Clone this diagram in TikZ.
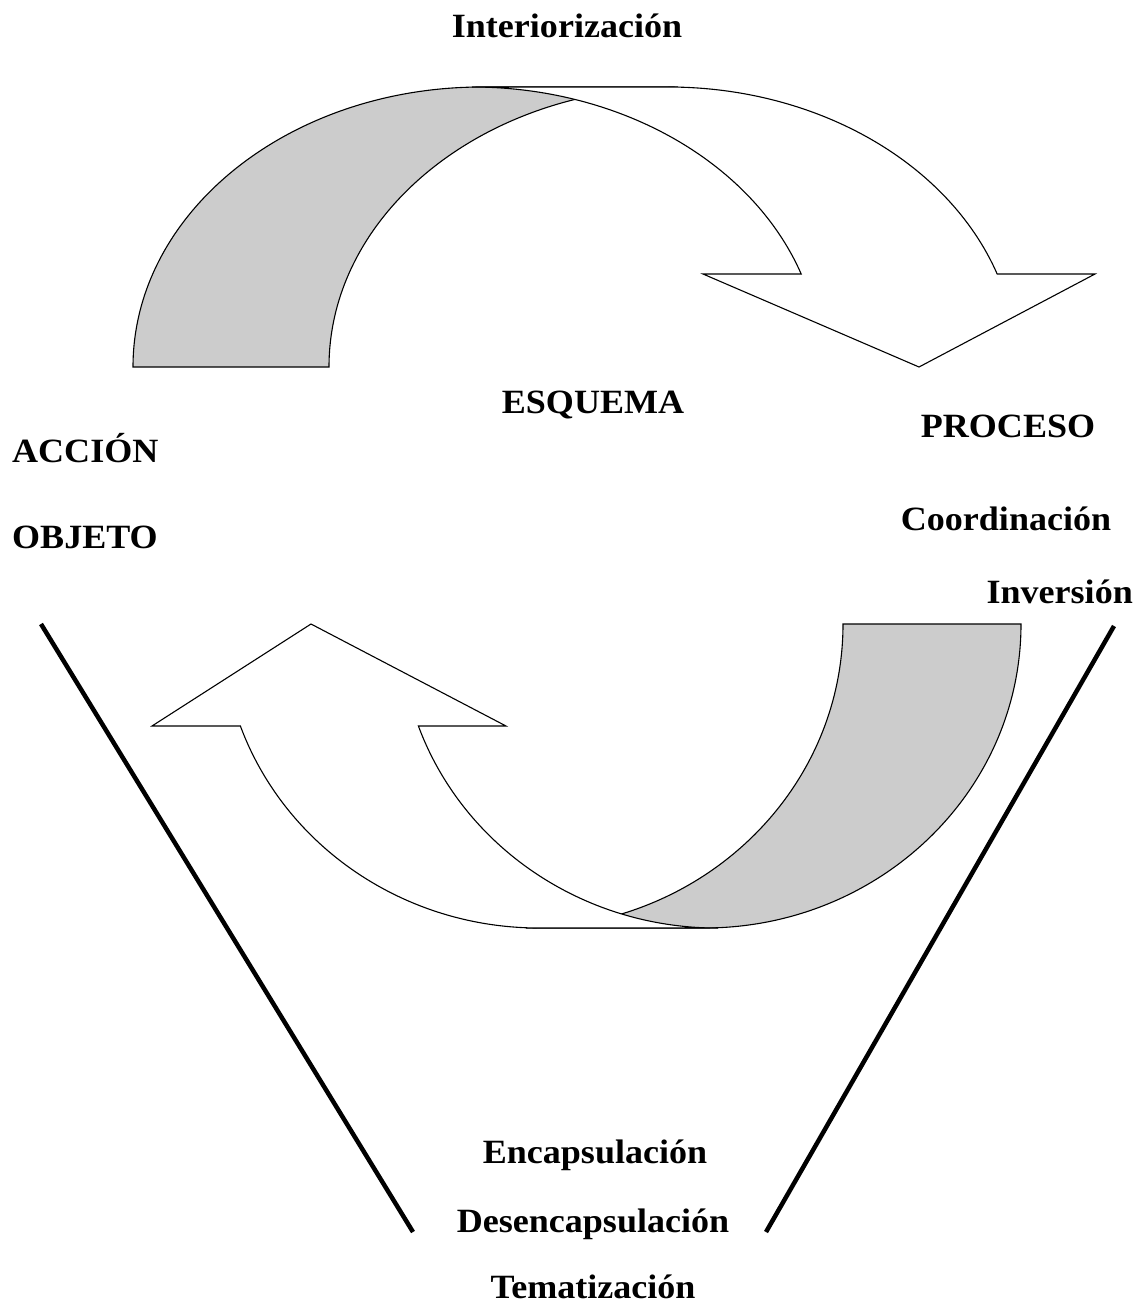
\documentclass[tikz,border=0pt]{standalone}
\usepackage{fontspec}
\setmainfont{Liberation Serif}
\newcommand{\wlabel}[1]{\scalebox{1.06}[1]{#1}}
\begin{document}
\begin{tikzpicture}[x=1pt,y=-1pt,
  lbl/.style={font=\bfseries\fontsize{34}{40}\selectfont, inner sep=0pt},
  band/.style={draw=black, line width=1.1pt, line join=miter, fill=black!20},
  arrowbody/.style={draw=black, line width=1.1pt, line join=miter, fill=white},
  funnel/.style={draw=black, line width=4.5pt}]
\useasboundingbox (0,0) rectangle (1138,1308);

% upper curved arrow: shaded back band, then the white front band with its head
\path[band] (133,367) arc[start angle=180, end angle=270, x radius=349, y radius=280]
  -- (678,87) arc[start angle=270, end angle=180, x radius=349, y radius=280] -- cycle;
\path[arrowbody] (472,87) -- (668,87)
  arc[start angle=270, end angle=340.6, x radius=349, y radius=280]
  -- (1095,274) -- (919,367) -- (703,274) -- (801.2,274)
  arc[start angle=340.6, end angle=270, x radius=349, y radius=280] -- cycle;

% lower curved arrow, pointing up on the left
\path[band] (1021,624) arc[start angle=0, end angle=90, x radius=317, y radius=304]
  -- (526,928) arc[start angle=90, end angle=0, x radius=317, y radius=304] -- cycle;
\path[arrowbody] (717,928) -- (539,928)
  arc[start angle=90, end angle=160.4, x radius=317, y radius=304]
  -- (152,726) -- (311,624) -- (506,726) -- (418.4,726)
  arc[start angle=160.4, end angle=90, x radius=317, y radius=304] -- cycle;

% funnel sides
\coordinate (fl1) at (41,624);
\coordinate (fl2) at (413,1232);
\coordinate (fr1) at (1114,626);
\coordinate (fr2) at (766,1232);
\draw[funnel] (fl1) -- (fl2);
\draw[funnel] (fr1) -- (fr2);

% labels
\node[lbl, anchor=base] (interior) at (567,38) {\wlabel{Interiorización}};
\node[lbl, anchor=base] (esquema) at (593,413) {\wlabel{ESQUEMA}};
\node[lbl, anchor=base west] (accion) at (12,462) {\wlabel{ACCIÓN}};
\node[lbl, anchor=base west] (objeto) at (12,548) {\wlabel{OBJETO}};
\node[lbl, anchor=base] (proceso) at (1008,437) {\wlabel{PROCESO}};
\node[lbl, anchor=base] (coord) at (1006,530) {\wlabel{Coordinación}};
\node[lbl, anchor=base east] (inversion) at (1133,603) {\wlabel{Inversión}};
\node[lbl, anchor=base] (encap) at (595,1163) {\wlabel{Encapsulación}};
\node[lbl, anchor=base] (desencap) at (593,1232) {\wlabel{Desencapsulación}};
\node[lbl, anchor=base] (tema) at (593,1298) {\wlabel{Tematización}};
\end{tikzpicture}
\end{document}
